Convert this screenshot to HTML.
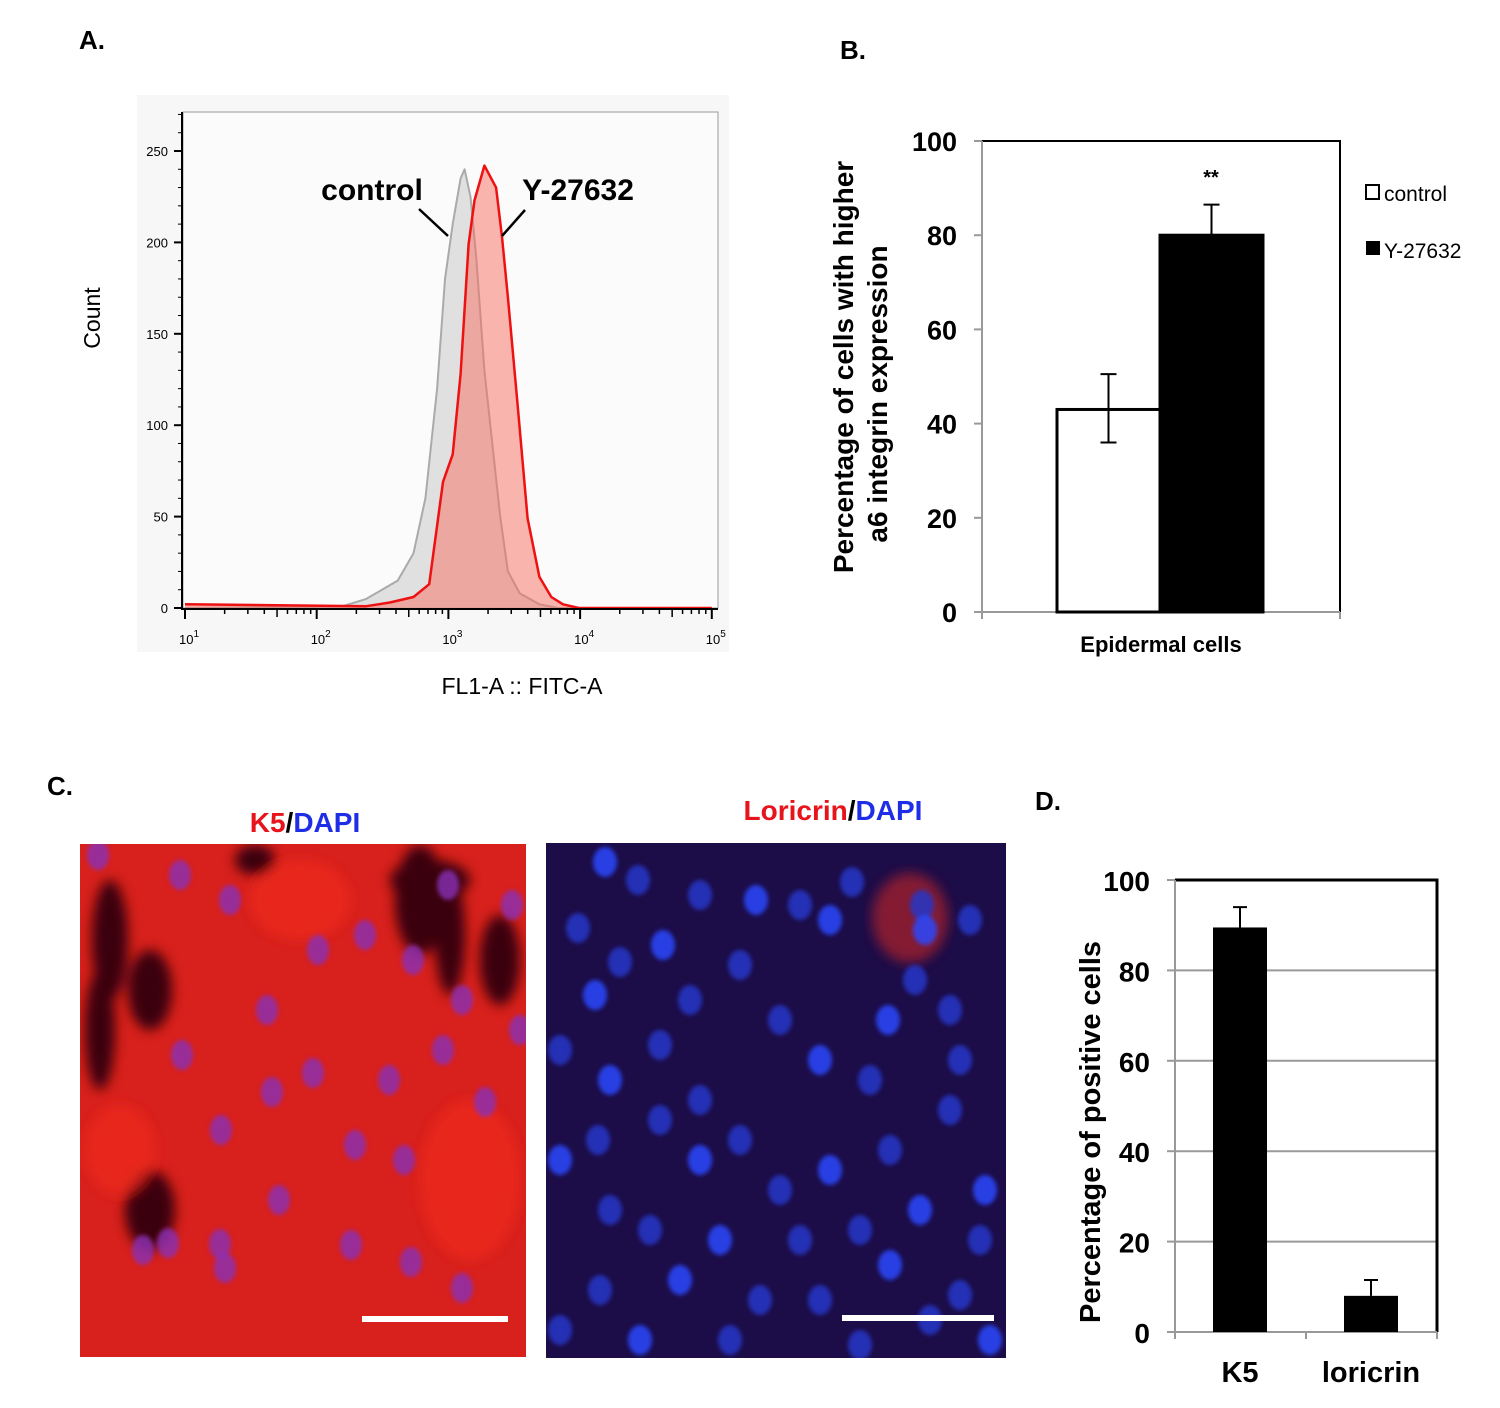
<!DOCTYPE html>
<html><head><meta charset="utf-8"><style>
html,body{margin:0;padding:0;background:#fff;}
svg{display:block;font-family:"Liberation Sans",Arial,sans-serif;}
</style></head><body>
<svg id="fig" width="1500" height="1408" viewBox="0 0 1500 1408" xmlns="http://www.w3.org/2000/svg">
<defs>
<filter id="blur2"><feGaussianBlur stdDeviation="2"/></filter>
<filter id="blur6"><feGaussianBlur stdDeviation="6"/></filter>
<clipPath id="clipL"><rect x="80" y="844" width="446" height="513"/></clipPath>
<clipPath id="clipR"><rect x="546" y="843" width="460" height="515"/></clipPath>
</defs>
<!-- Panel labels -->
<text x="79" y="49" font-size="26" font-weight="bold">A.</text>
<text x="840" y="59" font-size="26" font-weight="bold">B.</text>
<text x="47" y="795" font-size="26" font-weight="bold">C.</text>
<text x="1035" y="810" font-size="26" font-weight="bold">D.</text>

<!-- Panel A -->
<g id="panelA">
<rect x="137" y="95" width="592" height="557" fill="#f7f7f7"/>
<rect x="183" y="112" width="535" height="496" fill="#fbfbfb" stroke="#999" stroke-width="1"/>
<g id="aMarks"></g>
<g id="aAxes"></g>
<text transform="translate(100,318) rotate(-90)" text-anchor="middle" font-size="23">Count</text>
<text x="522" y="694" text-anchor="middle" font-size="23">FL1-A :: FITC-A</text>
<text x="372" y="200" text-anchor="middle" font-size="30" font-weight="bold">control</text>
<text x="578" y="200" text-anchor="middle" font-size="30" font-weight="bold">Y-27632</text>
<line x1="419" y1="209" x2="448" y2="236" stroke="#000" stroke-width="2.5"/>
<line x1="525" y1="210" x2="502" y2="236" stroke="#000" stroke-width="2.5"/>
</g>

<!-- Panel B -->
<g id="panelB">
<g id="bMarks"></g>
<text transform="translate(853,367) rotate(-90)" text-anchor="middle" font-size="28" font-weight="bold">Percentage of cells with higher</text>
<text transform="translate(887,394) rotate(-90)" text-anchor="middle" font-size="28" font-weight="bold">a6 integrin expression</text>
<text x="1161" y="652" text-anchor="middle" font-size="22" font-weight="bold">Epidermal cells</text>
<text x="1211" y="184" text-anchor="middle" font-size="20" font-weight="bold">**</text>
<rect x="1366" y="185" width="13" height="14" fill="#fff" stroke="#000" stroke-width="2"/>
<text x="1384" y="201" font-size="21">control</text>
<rect x="1366" y="241" width="14" height="14" fill="#000"/>
<text x="1384" y="258" font-size="21">Y-27632</text>
</g>

<!-- Panel C -->
<g id="panelC">
<text x="305" y="832" text-anchor="middle" font-size="28" font-weight="bold"><tspan fill="#e8141c">K5</tspan><tspan fill="#000">/</tspan><tspan fill="#1e2ee6">DAPI</tspan></text>
<text x="833" y="820" text-anchor="middle" font-size="28" font-weight="bold"><tspan fill="#e8141c">Loricrin</tspan><tspan fill="#000">/</tspan><tspan fill="#1e2ee6">DAPI</tspan></text>
<g clip-path="url(#clipL)">
<rect x="80" y="844" width="446" height="513" fill="#d8201c"/>
<g id="cLdark" filter="url(#blur6)"></g>
<g id="cLnuc" filter="url(#blur2)"></g>
</g>
<rect x="362" y="1316" width="146" height="6" fill="#fff"/>
<g clip-path="url(#clipR)">
<rect x="546" y="843" width="460" height="515" fill="#1c0c48"/>
<ellipse cx="910" cy="918" rx="38" ry="45" fill="#b0202a" opacity="0.7" filter="url(#blur6)"/>
<g id="cRnuc" filter="url(#blur2)"></g>
</g>
<rect x="842" y="1315" width="152" height="6" fill="#fff"/>
</g>

<!-- Panel D -->
<g id="panelD">
<g id="dMarks"></g>
<text transform="translate(1100,1132) rotate(-90)" text-anchor="middle" font-size="29" font-weight="bold">Percentage of positive cells</text>
</g>
</svg>
<script>
const NS="http://www.w3.org/2000/svg";
function mk(parent,tag,attrs){const e=document.createElementNS(NS,tag);for(const k in attrs)e.setAttribute(k,attrs[k]);parent.appendChild(e);return e;}

// ---------- Panel A data ----------
const controlLog=[1.0,2.197,2.376,2.615,2.735,2.825,2.914,2.974,3.033,3.093,3.123,3.168,3.213,3.273,3.333,3.393,3.452,3.542,3.691,3.833,5.0];
const controlCount=[0,1,5,15,30,60,120,180,210,235,240,225,190,130,90,50,20,8,2,0,0];
const treatedLog=[1.0,2.376,2.555,2.735,2.854,2.959,3.033,3.093,3.153,3.198,3.273,3.362,3.407,3.452,3.527,3.601,3.691,3.781,3.870,3.990,5.0];
const treatedCount=[2,1,3,6,13,69,84,128,199,223,242,230,203,170,110,49,17,6,2,0,0];
const aYTicks=[0,50,100,150,200,250];
const aXDecades=[1,2,3,4,5];
const ax=v=>185+(v-1)*131.7;
const ay=v=>608-v*1.828;
(function(){
 const g=document.getElementById('aMarks');
 function area(xs,ys,fill,stroke,sw,name){
  let d='M'+ax(xs[0])+','+ay(0);
  xs.forEach((x,i)=>{d+=' L'+ax(x).toFixed(1)+','+ay(ys[i]).toFixed(1);});
  d+=' L'+ax(xs[xs.length-1])+','+ay(0)+' Z';
  const p=mk(g,'path',{d:d,fill:fill,stroke:'none'});
  
  
  let d2='';xs.forEach((x,i)=>{d2+=(i?' L':'M')+ax(x).toFixed(1)+','+ay(ys[i]).toFixed(1);});
  const l=mk(g,'path',{d:d2,fill:'none',stroke:stroke,'stroke-width':sw,'stroke-linejoin':'round'});
  
  
 }
 area(controlLog,controlCount,'rgba(215,215,215,0.75)','#aaa',2,'control-histogram');
 area(treatedLog,treatedCount,'rgba(245,110,95,0.5)','#ee1111',2.5,'y27632-histogram');
 const a=document.getElementById('aAxes');
 const yl=mk(a,'line',{x1:182,y1:112,x2:182,y2:610,stroke:'#000','stroke-width':2});
 
 
 const xl=mk(a,'line',{x1:182,y1:609,x2:718,y2:609,stroke:'#000','stroke-width':2});
 
 
 for(let v=0;v<=270;v+=10){mk(a,'line',{x1:v%50===0?174:178,y1:ay(v),x2:182,y2:ay(v),stroke:'#000','stroke-width':v%50===0?2:1});}
 aYTicks.forEach(v=>{const t=mk(a,'text',{x:168,y:ay(v)+5,'text-anchor':'end','font-size':13});t.textContent=v;
  
  });
 aXDecades.forEach(d=>{
  mk(a,'line',{x1:ax(d),y1:609,x2:ax(d),y2:619,stroke:'#000','stroke-width':2});
  if(d<5)for(let m=2;m<10;m++){const x=ax(d+Math.log10(m));mk(a,'line',{x1:x,y1:609,x2:x,y2:m===5?617:614,stroke:'#000','stroke-width':1.5});}
  const t=mk(a,'text',{x:ax(d)-6,y:644,'font-size':13});t.innerHTML='10<tspan dy="-7" font-size="10">'+d+'</tspan>';
  
  
 });
})();

// ---------- Panel B data ----------
const bCategories=['control','Y-27632'];
const bValues=[43,80];
const bErrUp=[7.5,6.5];
const bErrDown=[7,0];
const bTicks=[0,20,40,60,80,100];
const by=v=>612-v*4.71;
(function(){
 const g=document.getElementById('bMarks');
 const fr=mk(g,'rect',{x:982,y:141,width:358,height:471,fill:'#fff',stroke:'#000','stroke-width':2});
 
 
 mk(g,'line',{x1:982,y1:612,x2:1340,y2:612,stroke:'#999','stroke-width':2});
 mk(g,'line',{x1:982,y1:141,x2:982,y2:612,stroke:'#999','stroke-width':2});
 mk(g,'line',{x1:1340,y1:612,x2:1340,y2:619,stroke:'#999','stroke-width':2});
 mk(g,'line',{x1:982,y1:612,x2:982,y2:619,stroke:'#999','stroke-width':2});
 bTicks.forEach(v=>{mk(g,'line',{x1:974,y1:by(v),x2:982,y2:by(v),stroke:'#999','stroke-width':2});
  const t=mk(g,'text',{x:957,y:by(v)+10,'text-anchor':'end','font-size':27,'font-weight':'bold'});t.textContent=v;
  
  });
 const x0=[1057,1160];
 bCategories.forEach((c,i)=>{
  const r=mk(g,'rect',{x:x0[i],y:by(bValues[i]),width:103,height:by(0)-by(bValues[i]),fill:i?'#000':'#fff',stroke:'#000','stroke-width':3});
  
  
  const cx=x0[i]+51.5;
  const e=mk(g,'path',{d:`M${cx},${by(bValues[i]+bErrUp[i])} L${cx},${by(bValues[i]-bErrDown[i])} M${cx-8},${by(bValues[i]+bErrUp[i])} L${cx+8},${by(bValues[i]+bErrUp[i])}`+(bErrDown[i]?` M${cx-8},${by(bValues[i]-bErrDown[i])} L${cx+8},${by(bValues[i]-bErrDown[i])}`:''),stroke:'#000','stroke-width':2,fill:'none'});
  
  
 });
})();

// ---------- Panel D data ----------
const dCategories=['K5','loricrin'];
const dValues=[89.5,8];
const dErr=[4.5,3.5];
const dTicks=[0,20,40,60,80,100];
const dy=v=>1332-v*4.52;
(function(){
 const g=document.getElementById('dMarks');
 dTicks.forEach(v=>{
  if(v>0&&v<100)mk(g,'line',{x1:1175,y1:dy(v),x2:1437,y2:dy(v),stroke:'#999','stroke-width':2});
  mk(g,'line',{x1:1167,y1:dy(v),x2:1175,y2:dy(v),stroke:'#999','stroke-width':2});
  const t=mk(g,'text',{x:1150,y:dy(v)+11,'text-anchor':'end','font-size':28,'font-weight':'bold'});t.textContent=v;
  
  
 });
 const fr=mk(g,'path',{d:'M1175,880 L1437,880 L1437,1332',fill:'none',stroke:'#000','stroke-width':3});
 
 
 mk(g,'line',{x1:1175,y1:880,x2:1175,y2:1332,stroke:'#999','stroke-width':2});
 mk(g,'line',{x1:1175,y1:1332,x2:1437,y2:1332,stroke:'#999','stroke-width':2});
 [1175,1306,1437].forEach(x=>mk(g,'line',{x1:x,y1:1332,x2:x,y2:1339,stroke:'#999','stroke-width':2}));
 const cx=[1240,1371];
 dCategories.forEach((c,i)=>{
  const r=mk(g,'rect',{x:cx[i]-27,y:dy(dValues[i]),width:54,height:dy(0)-dy(dValues[i]),fill:'#000'});
  
  
  const top=dy(dValues[i]+dErr[i]);
  const e=mk(g,'path',{d:`M${cx[i]},${top} L${cx[i]},${dy(dValues[i])} M${cx[i]-7},${top} L${cx[i]+7},${top}`,stroke:'#000','stroke-width':2,fill:'none'});
  
  
  const t=mk(g,'text',{x:cx[i],y:1382,'text-anchor':'middle','font-size':29,'font-weight':'bold'});t.textContent=c;
  
  
 });
})();

// ---------- Panel C decorative images ----------
(function(){
 const dk=document.getElementById('cLdark');
 [[110,940,18,60],[150,990,22,40],[420,900,25,55],[450,935,15,60],[150,1210,25,40],[100,1030,15,60],[430,880,40,20],[255,860,20,15],[500,960,20,45]].forEach(p=>mk(dk,'ellipse',{cx:p[0],cy:p[1],rx:p[2],ry:p[3],fill:'#3a0508'}));
 [[470,1180,50,80],[120,1150,35,45],[300,900,50,40]].forEach(p=>mk(dk,'ellipse',{cx:p[0],cy:p[1],rx:p[2],ry:p[3],fill:'#f02820',opacity:0.7}));
 const n=document.getElementById('cLnuc');
 [[98,855],[180,875],[230,900],[318,950],[365,935],[413,960],[448,885],[512,905],[267,1010],[182,1055],[221,1130],[313,1073],[389,1080],[443,1050],[462,1000],[272,1092],[355,1145],[404,1160],[485,1102],[220,1244],[351,1245],[168,1243],[279,1200],[143,1250],[411,1262],[462,1288],[225,1268],[520,1030]].forEach(p=>mk(n,'ellipse',{cx:p[0],cy:p[1],rx:11,ry:15,fill:'#8a30b8',opacity:0.8}));
 const r=document.getElementById('cRnuc');
 [[605,862],[638,880],[700,895],[756,900],[578,928],[620,962],[663,945],[740,965],[800,905],[830,920],[852,882],[922,905],[925,930],[970,920],[915,980],[888,1020],[950,1010],[690,1000],[595,995],[560,1050],[660,1045],[610,1080],[700,1100],[780,1020],[820,1060],[870,1080],[960,1060],[560,1160],[598,1140],[660,1120],[700,1160],[740,1140],[780,1190],[830,1170],[890,1150],[950,1110],[985,1190],[610,1210],[650,1230],[720,1240],[800,1240],[860,1230],[920,1210],[980,1240],[600,1290],[680,1280],[760,1300],[820,1300],[890,1265],[960,1295],[560,1330],[640,1340],[730,1340],[860,1345],[990,1340],[930,1320]].forEach((p,i)=>mk(r,'ellipse',{cx:p[0],cy:p[1],rx:12,ry:15,fill:i%3===0?'#2a48ff':'#2636c8',opacity:0.85}));
})();
</script>
</body></html>
